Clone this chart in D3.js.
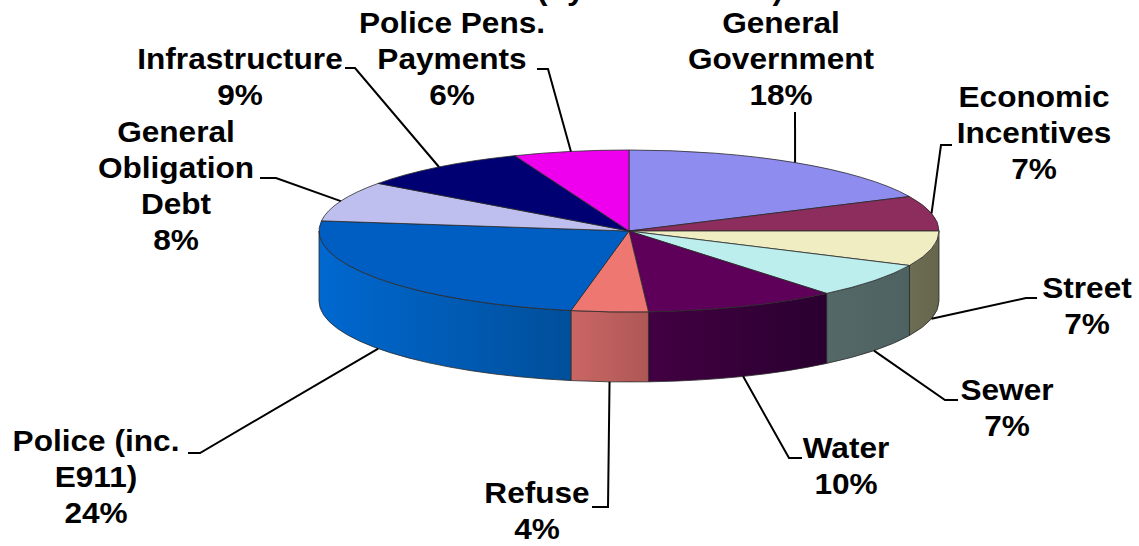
<!DOCTYPE html>
<html>
<head>
<meta charset="utf-8">
<script src="https://cdn.jsdelivr.net/npm/d3@7"></script>
<style>
  html, body { margin: 0; padding: 0; background: #fff; }
  svg { display: block; }
</style>
</head>
<body>
<svg id="chart" width="1139" height="546"></svg>
<script>
// Budget shares by spending area, clockwise from 12 o'clock
const categories = [
  "General Government", "Economic Incentives", "Street", "Sewer", "Water",
  "Refuse", "Police (inc. E911)", "General Obligation Debt", "Infrastructure",
  "Police Pens. Payments"
];
const shares = [18, 7, 7, 7, 10, 4, 24, 8, 9, 6];
const labelLines = [
  ["General", "Government"], ["Economic", "Incentives"], ["Street"], ["Sewer"],
  ["Water"], ["Refuse"], ["Police (inc.", "E911)"], ["General", "Obligation", "Debt"],
  ["Infrastructure"], ["Police Pens.", "Payments"]
];
const headingTail = "(by Cost Center)";

// Slice fills: top face, and the side wall (left -> right shading)
const topColors = ["#8F8CF0", "#8C2D5D", "#EFEDC1", "#BDEEEE", "#5E0059",
                   "#EE7772", "#005EC3", "#BFBFEF", "#000073", "#EE00EE"];
const sideColors = [["#6A68B4", "#5E5CA0"], ["#6A2246", "#5E1E3E"], ["#6D6D53", "#66664E"],
                    ["#546868", "#4E6262"], ["#420042", "#2A0030"], ["#CA6664", "#AE5856"],
                    ["#0068D0", "#004F9A"], ["#8E8EB4", "#7E7EA0"], ["#000056", "#00004A"],
                    ["#B400B4", "#A000A0"]];

// Label placement: centre x, first baseline, and leader start (tick) points
const labelLayout = [
  { x: 781, y: 33,  lead: [[795, 112]] },
  { x: 1034, y: 107, lead: [[952, 145], [941, 145]] },
  { x: 1087, y: 298, lead: [[1037, 298], [1026, 298]] },
  { x: 1007, y: 400, lead: [[958, 400], [945, 400]] },
  { x: 846, y: 458, lead: [[802, 458], [789, 458]] },
  { x: 537, y: 503, lead: [[592, 507], [608, 507]] },
  { x: 96,  y: 451, lead: [[188, 453], [200, 453]] },
  { x: 176, y: 142, lead: [[260, 178], [276, 178]] },
  { x: 240, y: 69,  lead: [[345, 68], [355, 68]] },
  { x: 452, y: 33,  lead: [[537, 69], [548, 69]] }
];

const W = 1139, H = 546;
const cx = 629, cy = 231, rx = 310, ry = 81, depth = 70;
const fontSize = 29, lineGap = 36, stretch = 1.09;

const svg = d3.select("#chart");
svg.append("rect").attr("width", W).attr("height", H).attr("fill", "#fff");
const defs = svg.append("defs");

// Project a pie angle (0 = top, clockwise) onto the tilted ellipse
const pt = (a, dy = 0) => [cx + rx * Math.sin(a), cy - ry * Math.cos(a) + dy];

const total = d3.sum(shares);
const arcs = d3.pie().sort(null).value(d => d)(shares);

// Side walls (only the front half is visible)
const sideG = svg.append("g");
arcs.forEach((d, i) => {
  const s = Math.max(d.startAngle, Math.PI / 2);
  const e = Math.min(d.endAngle, 3 * Math.PI / 2);
  if (s >= e) return;
  const [x0, y0] = pt(s), [x1, y1] = pt(e);
  const [x1b, y1b] = pt(e, depth), [x0b, y0b] = pt(s, depth);
  const large = e - s > Math.PI ? 1 : 0;
  const xs = d3.range(0, 41).map(k => pt(s + (e - s) * k / 40)[0]);
  const gid = "side" + i;
  const grad = defs.append("linearGradient").attr("id", gid)
    .attr("gradientUnits", "userSpaceOnUse")
    .attr("x1", d3.min(xs)).attr("x2", d3.max(xs)).attr("y1", 0).attr("y2", 0);
  grad.append("stop").attr("offset", 0).attr("stop-color", sideColors[i][0]);
  grad.append("stop").attr("offset", 1).attr("stop-color", sideColors[i][1]);
  sideG.append("path")
    .attr("d", `M${x0},${y0}A${rx},${ry} 0 ${large} 1 ${x1},${y1}` +
               `L${x1b},${y1b}A${rx},${ry} 0 ${large} 0 ${x0b},${y0b}Z`)
    .attr("fill", `url(#${gid})`)
    .attr("stroke", "#2a2a2a").attr("stroke-width", 0.8).attr("stroke-linejoin", "round");
});

// Top faces
svg.append("g").selectAll("path").data(arcs).join("path")
  .attr("d", d => {
    const [x0, y0] = pt(d.startAngle), [x1, y1] = pt(d.endAngle);
    const large = d.endAngle - d.startAngle > Math.PI ? 1 : 0;
    return `M${cx},${cy}L${x0},${y0}A${rx},${ry} 0 ${large} 1 ${x1},${y1}Z`;
  })
  .attr("fill", (d, i) => topColors[i])
  .attr("stroke", "#2a2a2a").attr("stroke-width", 0.8).attr("stroke-linejoin", "round");

// Leader lines from each label to the middle of its slice edge
const leaderG = svg.append("g");
arcs.forEach((d, i) => {
  const mid = (d.startAngle + d.endAngle) / 2;
  const anchor = Math.cos(mid) < 0 ? pt(mid, depth) : pt(mid);
  const pts = labelLayout[i].lead.concat([anchor]);
  leaderG.append("path")
    .attr("d", d3.line()(pts))
    .attr("fill", "none").attr("stroke", "#000").attr("stroke-width", 2);
});

// Labels: name lines plus percentage
const fmtPct = v => Math.round(v / total * 100) + "%";
const labelG = svg.append("g")
  .attr("font-family", "'Liberation Sans', Arial, sans-serif")
  .attr("font-weight", "bold").attr("font-size", fontSize)
  .attr("text-anchor", "middle").attr("fill", "#000");

arcs.forEach((d, i) => {
  const L = labelLayout[i];
  const t = labelG.append("text")
    .attr("transform", `translate(${L.x},${L.y}) scale(${stretch},1)`);
  labelLines[i].concat([fmtPct(d.data)]).forEach((line, k) => {
    t.append("tspan").attr("x", 0).attr("y", k * lineGap).text(line);
  });
});

// Last line of the heading, running off the top edge
labelG.append("text")
  .attr("transform", `translate(660,-0.5) scale(${stretch},1)`)
  .text(headingTail);
</script>
</body>
</html>
